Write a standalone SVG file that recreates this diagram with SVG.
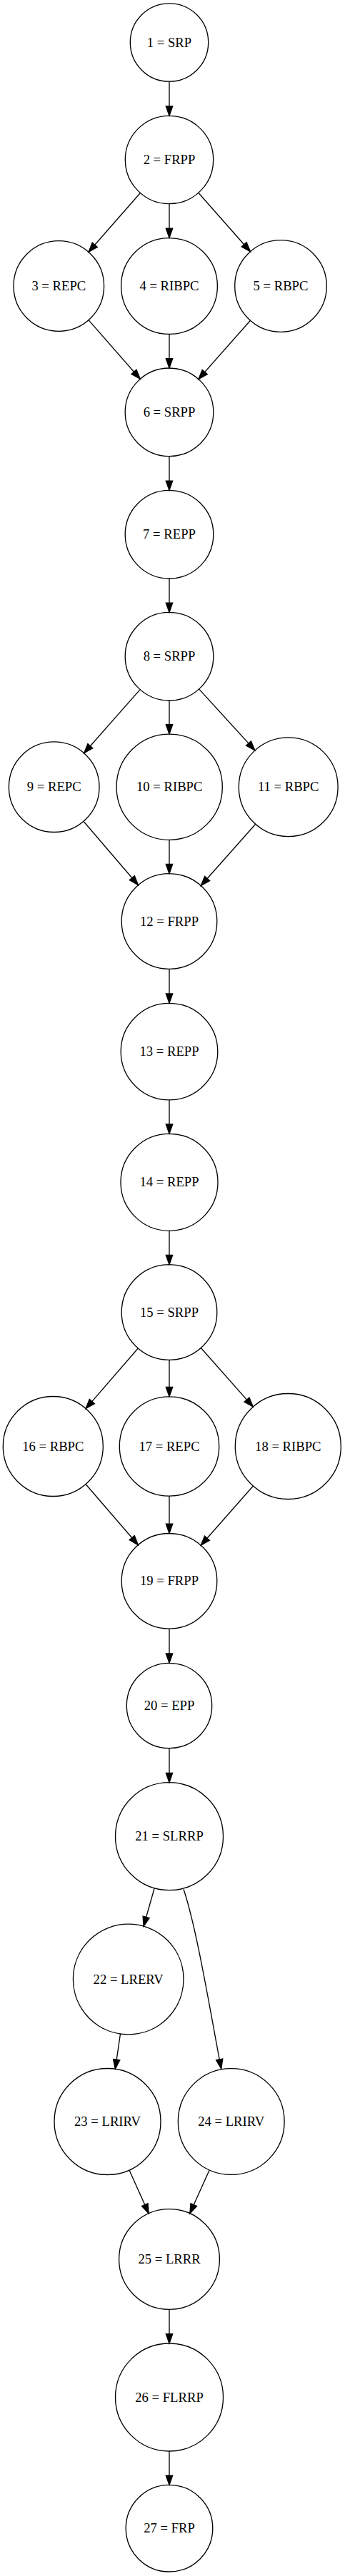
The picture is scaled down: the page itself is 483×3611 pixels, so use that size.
<svg xmlns="http://www.w3.org/2000/svg" width="483" height="3611" viewBox="0 0 483 3611">
<style>
.n circle{fill:none;stroke:#000;stroke-width:1.33}
.n text{font-family:"Liberation Serif","Times New Roman",serif;font-size:18.67px;fill:#000;text-anchor:middle}
.e path{fill:none;stroke:#000;stroke-width:1.33;marker-end:url(#ah)}
</style>
<defs>
<marker id="ah" markerUnits="userSpaceOnUse" markerWidth="16" markerHeight="12" refX="14" refY="5.5" orient="auto" overflow="visible">
<path d="M0.67,0.83 L14,5.5 L0.67,10.17 Z" fill="#000" stroke="#000" stroke-width="1.33"/>
</marker>
</defs>
<rect width="483" height="3611" fill="#fff"/>
<g id="connectors" class="e">
<path d="M237,114.2 L237,162.3"/>
<path d="M196.4,270.5 L124,353.3"/>
<path d="M237,285.7 L237,333.6"/>
<path d="M277.8,270.3 L350.5,352.8"/>
<path d="M124,448.6 L196.3,531.3"/>
<path d="M237,468.4 L237,516"/>
<path d="M350.5,449.2 L277.9,531.5"/>
<path d="M237,639.6 L237,687.4"/>
<path d="M237,811 L237,858.4"/>
<path d="M196.1,966.6 L117.6,1055.7"/>
<path d="M237,982 L237,1029.1"/>
<path d="M278.6,965.9 L357,1051.9"/>
<path d="M116.9,1151.3 L193.5,1240.8"/>
<path d="M237,1177.3 L237,1224.7"/>
<path d="M357.7,1155.2 L281.3,1241.5"/>
<path d="M237,1358.3 L237,1406.3"/>
<path d="M237,1541.9 L237,1589.3"/>
<path d="M237,1725.3 L237,1772.7"/>
<path d="M193.3,1890 L120.1,1974.6"/>
<path d="M237,1906.3 L237,1957.8"/>
<path d="M281.3,1889.5 L354.3,1972.1"/>
<path d="M120,2080.5 L193.4,2165.7"/>
<path d="M237,2097.2 L237,2149.5"/>
<path d="M354.4,2083 L281.2,2166.2"/>
<path d="M237,2283.1 L237,2331.3"/>
<path d="M237,2450.7 L237,2498.7"/>
<path d="M216.2,2646.8 L201,2700.2"/>
<path d="M257,2648.3 C276,2705.2 294.6,2821.4 309.7,2900"/>
<path d="M168.5,2851 L161.3,2900.3"/>
<path d="M181,3042 L208.2,3102.8"/>
<path d="M293.2,3041.9 L265.8,3102.8"/>
<path d="M237,3237.4 L237,3285"/>
<path d="M237,3436 L237,3483.4"/>
</g>
<g id="node1" class="n"><circle cx="237" cy="59.5" r="54.7"/><text x="237" y="65.5">1 = SRP</text></g>
<g id="node2" class="n"><circle cx="237" cy="224" r="61.7"/><text x="237" y="230">2 = FRPP</text></g>
<g id="node3" class="n"><circle cx="82.3" cy="401" r="63.3"/><text x="82.3" y="407">3 = REPC</text></g>
<g id="node4" class="n"><circle cx="237" cy="401" r="67.4"/><text x="237" y="407">4 = RIBPC</text></g>
<g id="node5" class="n"><circle cx="393" cy="401" r="64.3"/><text x="393" y="407">5 = RBPC</text></g>
<g id="node6" class="n"><circle cx="237" cy="577.8" r="61.8"/><text x="237" y="583.8">6 = SRPP</text></g>
<g id="node7" class="n"><circle cx="237" cy="749.2" r="61.8"/><text x="237" y="755.2">7 = REPP</text></g>
<g id="node8" class="n"><circle cx="237" cy="920.2" r="61.8"/><text x="237" y="926.2">8 = SRPP</text></g>
<g id="node9" class="n"><circle cx="75.7" cy="1103.2" r="63.3"/><text x="75.7" y="1109.2">9 = REPC</text></g>
<g id="node10" class="n"><circle cx="237.2" cy="1103.2" r="74.1"/><text x="237.2" y="1109.2">10 = RIBPC</text></g>
<g id="node11" class="n"><circle cx="403.7" cy="1103.2" r="69.4"/><text x="403.7" y="1109.2">11 = RBPC</text></g>
<g id="node12" class="n"><circle cx="237" cy="1291.5" r="66.8"/><text x="237" y="1297.5">12 = FRPP</text></g>
<g id="node13" class="n"><circle cx="237" cy="1474.1" r="67.8"/><text x="237" y="1480.1">13 = REPP</text></g>
<g id="node14" class="n"><circle cx="237" cy="1657.3" r="68"/><text x="237" y="1663.3">14 = REPP</text></g>
<g id="node15" class="n"><circle cx="237" cy="1839.5" r="66.8"/><text x="237" y="1845.5">15 = SRPP</text></g>
<g id="node16" class="n"><circle cx="74.3" cy="2027.5" r="70"/><text x="74.3" y="2033.5">16 = RBPC</text></g>
<g id="node17" class="n"><circle cx="237" cy="2027.5" r="69.7"/><text x="237" y="2033.5">17 = REPC</text></g>
<g id="node18" class="n"><circle cx="403.3" cy="2027.5" r="74"/><text x="403.3" y="2033.5">18 = RIBPC</text></g>
<g id="node19" class="n"><circle cx="237" cy="2216.3" r="66.8"/><text x="237" y="2222.3">19 = FRPP</text></g>
<g id="node20" class="n"><circle cx="237" cy="2391" r="59.7"/><text x="237" y="2397">20 = EPP</text></g>
<g id="node21" class="n"><circle cx="237" cy="2574.2" r="75.5"/><text x="237" y="2580.2">21 = SLRRP</text></g>
<g id="node22" class="n"><circle cx="179.7" cy="2774.5" r="77.3"/><text x="179.7" y="2780.5">22 = LRERV</text></g>
<g id="node23" class="n"><circle cx="150.5" cy="2974" r="74.5"/><text x="150.5" y="2980">23 = LRIRV</text></g>
<g id="node24" class="n"><circle cx="323.7" cy="2974" r="74.4"/><text x="323.7" y="2980">24 = LRIRV</text></g>
<g id="node25" class="n"><circle cx="237" cy="3167" r="70.4"/><text x="237" y="3173">25 = LRRR</text></g>
<g id="node26" class="n"><circle cx="237" cy="3360.5" r="75.5"/><text x="237" y="3366.5">26 = FLRRP</text></g>
<g id="node27" class="n"><circle cx="237" cy="3544.2" r="60.8"/><text x="237" y="3550.2">27 = FRP</text></g>
</svg>
